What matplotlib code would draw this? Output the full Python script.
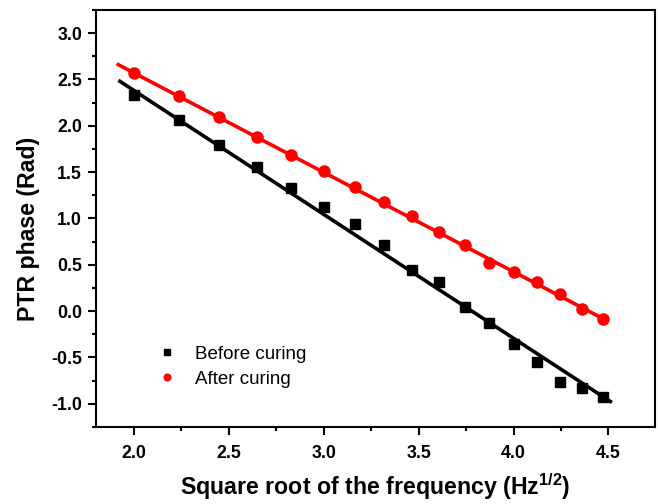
import matplotlib
matplotlib.use("Agg")
import matplotlib.pyplot as plt
from matplotlib.ticker import MultipleLocator

# sqrt of the modulation frequency (4 ... 20 Hz)
sqrt_freq = [2.000, 2.236, 2.449, 2.646, 2.828, 3.000, 3.162, 3.317, 3.464,
             3.606, 3.742, 3.873, 4.000, 4.123, 4.243, 4.359, 4.472]
phase_before = [2.33, 2.06, 1.79, 1.56, 1.33, 1.12, 0.94, 0.71, 0.445,
                0.31, 0.04, -0.13, -0.35, -0.55, -0.76, -0.83, -0.93]
phase_after = [2.57, 2.32, 2.09, 1.875, 1.68, 1.515, 1.335, 1.18, 1.03,
               0.85, 0.71, 0.52, 0.42, 0.31, 0.19, 0.02, -0.08]

# linear fit lines as drawn in the figure (end points)
fit_x_before = [1.926, 4.51]
fit_y_before = [2.48, -0.975]
fit_x_after = [1.917, 4.48]
fit_y_after = [2.66, -0.09]

plt.rcParams["font.family"] = ["Liberation Sans", "DejaVu Sans"]

fig = plt.figure(figsize=(6.58, 5.04), dpi=100)
ax = fig.add_axes([0.1459, 0.1528, 0.8495, 0.8274])

ax.plot(fit_x_before, fit_y_before, color="black", lw=2.6, zorder=2)
ax.plot(fit_x_after, fit_y_after, color="#ff0000", lw=2.6, zorder=2)
ax.plot(sqrt_freq, phase_before, "s", color="black", ms=7, ls="none",
        label="Before curing", zorder=3)
ax.plot(sqrt_freq, phase_after, "o", color="#ff0000", ms=8, ls="none",
        label="After curing", zorder=3)

ax.set_xlim(1.80, 4.745)
ax.set_ylim(-1.25, 3.25)
ax.xaxis.set_major_locator(MultipleLocator(0.5))
ax.xaxis.set_minor_locator(MultipleLocator(0.25))
ax.yaxis.set_major_locator(MultipleLocator(0.5))
ax.yaxis.set_minor_locator(MultipleLocator(0.25))
ax.xaxis.set_major_formatter(plt.FormatStrFormatter("%.1f"))
ax.yaxis.set_major_formatter(plt.FormatStrFormatter("%.1f"))

ax.tick_params(which="both", direction="out", width=1.5, top=False, right=False)
ax.tick_params(which="major", length=6, labelsize=12.8)
ax.tick_params(which="minor", length=3)
ax.tick_params(axis="x", which="major", pad=7)
ax.tick_params(axis="y", which="major", pad=4)
for lab in ax.get_xticklabels() + ax.get_yticklabels():
    lab.set_fontweight("bold")
for sp in ax.spines.values():
    sp.set_linewidth(1.5)

ax.set_xlabel("Square root of the frequency (Hz$^{\\mathregular{1/2}}$)",
              fontsize=16.7, fontweight="bold", labelpad=7)
ax.set_ylabel("PTR phase (Rad)", fontsize=16.7, fontweight="bold")
ax.yaxis.set_label_coords(-0.100, 0.475)

ax.legend(loc="center left", bbox_to_anchor=(0.097, 0.145), frameon=False,
          borderaxespad=0, fontsize=13.5, handlelength=1.0,
          handletextpad=1.0, labelspacing=0.42, markerscale=0.6)

fig.savefig("out.png", dpi=100)
